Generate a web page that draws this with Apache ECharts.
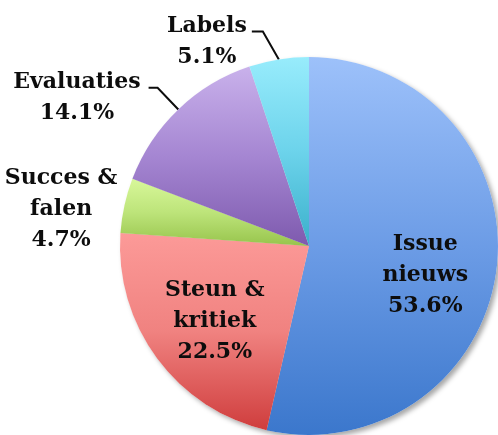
<!DOCTYPE html>
<html><head><meta charset="utf-8">
<script src="https://cdn.jsdelivr.net/npm/echarts@6/dist/echarts.min.js"></script>
<style>html,body{margin:0;padding:0;background:#fff}#c{width:498px;height:435px}</style>
</head><body><div id="c"></div>
<script>
// ---- data ----
const categories = ['Issue nieuws', 'Steun & kritiek', 'Succes & falen', 'Evaluaties', 'Labels'];
const labelNames = ['Issue\nnieuws', 'Steun &\nkritiek', 'Succes &\nfalen', 'Evaluaties', 'Labels'];
const values = [53.6, 22.5, 4.7, 14.1, 5.1];
const topColors = ['#9dc1fa', '#fc9a98', '#d8f89a', '#c9b1eb', '#98ecfc'];
const midColors = ['#6c9ce6', '#f08280', '#bde47a', '#a586d2', '#6cd3eb'];
const bottomColors = ['#3b77cc', '#cf3d3d', '#97c44c', '#7e5aae', '#3bb0cb'];

// ---- layout ----
const CX = 309, CY = 246, R = 189;
const FONT = '"DejaVu Serif", serif';
const FS = 22, LH = 31;
const total = values.reduce((a, b) => a + b, 0);
function midAngle(i) { let s = 0; for (let k = 0; k < i; k++) s += values[k]; return 2 * Math.PI * (s + values[i] / 2) / total; }
function labelText(i) { return labelNames[i] + '\n' + values[i].toFixed(1) + '%'; }

const mctx = document.createElement('canvas').getContext('2d');
mctx.font = 'bold ' + FS + 'px ' + FONT;
const textW = categories.map((c, i) => Math.max.apply(null, labelText(i).split('\n').map(l => mctx.measureText(l).width)));

const withLine = [false, false, false, true, true];

const mainData = categories.map((name, i) => ({
  name: name,
  value: values[i],
  itemStyle: {
    color: new echarts.graphic.LinearGradient(0, 0, 0, 1, [
      { offset: 0, color: topColors[i] },
      { offset: 0.5, color: midColors[i] },
      { offset: 1, color: bottomColors[i] }
    ])
  },
  label: { width: Math.ceil(textW[i]) + 4 },
  labelLine: { show: withLine[i] }
}));
const shadowData = categories.map((name, i) => ({ name: name, value: values[i] }));

const chart = echarts.init(document.getElementById('c'), null, { renderer: 'canvas' });
chart.setOption({
  animation: false,
  backgroundColor: '#ffffff',
  series: [
    {
      type: 'pie', z: 1, silent: true,
      center: [CX, CY], radius: R, startAngle: 90, clockwise: true,
      data: shadowData,
      itemStyle: { color: '#ffffff', shadowBlur: 5, shadowColor: 'rgba(0,0,0,0.35)', shadowOffsetX: 3, shadowOffsetY: 3 },
      label: { show: false }, labelLine: { show: false }
    },
    {
      type: 'pie', z: 2, silent: true,
      center: [CX, CY], radius: R, startAngle: 90, clockwise: true,
      avoidLabelOverlap: false,
      bleedMargin: 0,
      data: mainData,
      itemStyle: { borderWidth: 0 },
      label: {
        show: true, position: 'outside',
        formatter: p => labelText(p.dataIndex),
        fontFamily: FONT, fontSize: FS, fontWeight: 'bold', color: '#0d0d0d',
        lineHeight: LH, overflow: 'none', align: 'center'
      },
      labelLine: { show: true, length: 5, length2: 0, smooth: false, lineStyle: { color: '#0d0d0d', width: 2 } },
      labelLayout: function (p) {
        const i = p.dataIndex;
        const a = midAngle(i);
        const sx = Math.sin(a), sy = -Math.cos(a);
        const w = textW[i];
        if (i === 0 || i === 1) {
          const rf = 0.63;
          const off = i === 0 ? [-2, 16] : [1.5, 4];
          return { x: CX + rf * R * sx + off[0], y: CY + rf * R * sy + off[1], align: 'center', verticalAlign: 'middle' };
        }
        const p0 = [CX + R * sx, CY + R * sy];
        if (i === 3) {
          const p1 = [p0[0] + 30 * sx, p0[1] + 30 * sy];
          const p2 = [p1[0] - 9, p1[1]];
          return { x: p2[0] - 8 - w / 2, y: p2[1] - 21, align: 'center', verticalAlign: 'top', labelLinePoints: [p0, p1, p2] };
        }
        if (i === 4) {
          const p1 = [p0[0] - 16, p0[1] - 28];
          const p2 = [p1[0] - 11, p1[1]];
          return { x: p2[0] - 5 - w / 2, y: p2[1] - 21, align: 'center', verticalAlign: 'top', labelLinePoints: [p0, p1, p2] };
        }
        return { x: p0[0] - 7 - w / 2, y: p0[1] - 43, align: 'center', verticalAlign: 'top' };
      }
    }
  ]
});
</script>
</body></html>
